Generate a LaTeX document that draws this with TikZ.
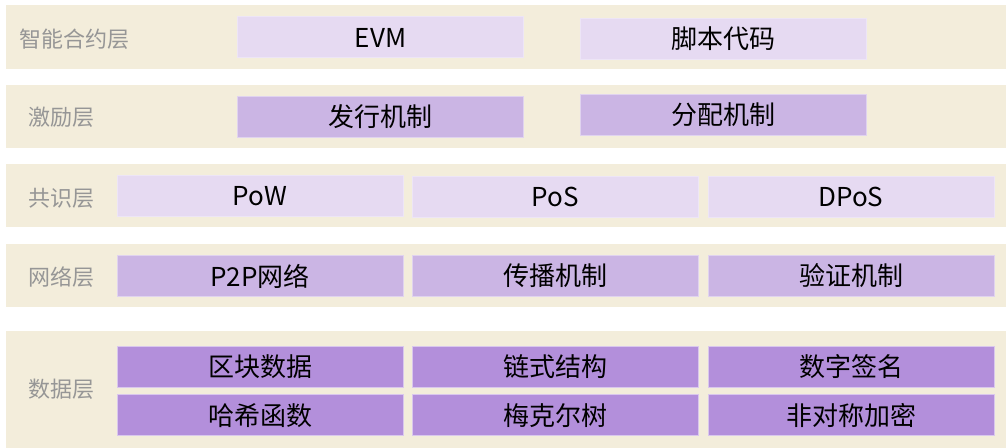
\documentclass[tikz,border=0pt]{standalone}
\usepackage{fontspec}
\newfontfamily\cjkfont{Noto Sans CJK SC}
\usetikzlibrary{positioning}

\definecolor{bandbg}{RGB}{243,237,219}
\definecolor{lightpurple}{RGB}{230,218,242}
\definecolor{midpurple}{RGB}{203,181,228}
\definecolor{darkpurple}{RGB}{179,143,219}
\definecolor{labelgray}{RGB}{150,150,150}

\begin{document}
\begin{tikzpicture}[x=0.75pt, y=-0.75pt,
		band/.style={fill=bandbg, draw=none, minimum width=750pt, inner sep=0pt},
		layer/.style={anchor=west, text=labelgray, inner sep=0pt, font=\cjkfont\fontsize{16.5}{18}\selectfont},
		item/.style={minimum width=214.5pt, minimum height=30.75pt, inner sep=0pt, line width=0.75pt, font=\cjkfont\fontsize{19.5}{21}\selectfont},
		light/.style={item, fill=lightpurple, draw=lightpurple!70!white},
		mid/.style={item, fill=midpurple, draw=midpurple!60!white},
		dark/.style={item, fill=darkpurple, draw=darkpurple!50!white},
	]
		\useasboundingbox (0,0) rectangle (1006,448);
		
		% layer bands
		\node (bcontract) [band, minimum height=48pt] at (506,37) {};
		\node (bincent) [band, minimum height=47.25pt] at (506,116.5) {};
		\node (bconsensus) [band, minimum height=47.25pt] at (506,195.5) {};
		\node (bnetwork) [band, minimum height=47.25pt] at (506,275.5) {};
		\node (bdata) [band, minimum height=87.75pt] at (506,389.5) {};
		
		% layer names
		\node (lcontract) [layer] at (19,39) {智能合约层};
		\node (lincent) [layer] at (28,117) {激励层};
		\node (lconsensus) [layer] at (28,198) {共识层};
		\node (lnetwork) [layer] at (28,277) {网络层};
		\node (ldata) [layer] at (28,389) {数据层};
		
		% contract layer
		\node (evm) [light] at (380.5,37.5) {EVM};
		\node (script) [light] at (723,39) {脚本代码};
		
		% incentive layer
		\node (issue) [mid] at (380.5,117) {发行机制};
		\node (alloc) [mid] at (723,115) {分配机制};
		
		% consensus layer
		\node (pow) [light] at (260,196.5) {PoW};
		\node (pos) [light] at (555,197) {PoS};
		\node (dpos) [light] at (851,197) {DPoS};
		
		% network layer
		\node (p2p) [mid] at (260,276) {P2P网络};
		\node (spread) [mid] at (555,276) {传播机制};
		\node (verify) [mid] at (851,276) {验证机制};
		
		% data layer
		\node (block) [dark] at (260,367) {区块数据};
		\node (chain) [dark] at (555,367) {链式结构};
		\node (sign) [dark] at (851,367) {数字签名};
		\node (hash) [dark] at (260,415.5) {哈希函数};
		\node (merkle) [dark] at (555,415.5) {梅克尔树};
		\node (crypt) [dark] at (851,415.5) {非对称加密};
	\end{tikzpicture}
\end{document}
